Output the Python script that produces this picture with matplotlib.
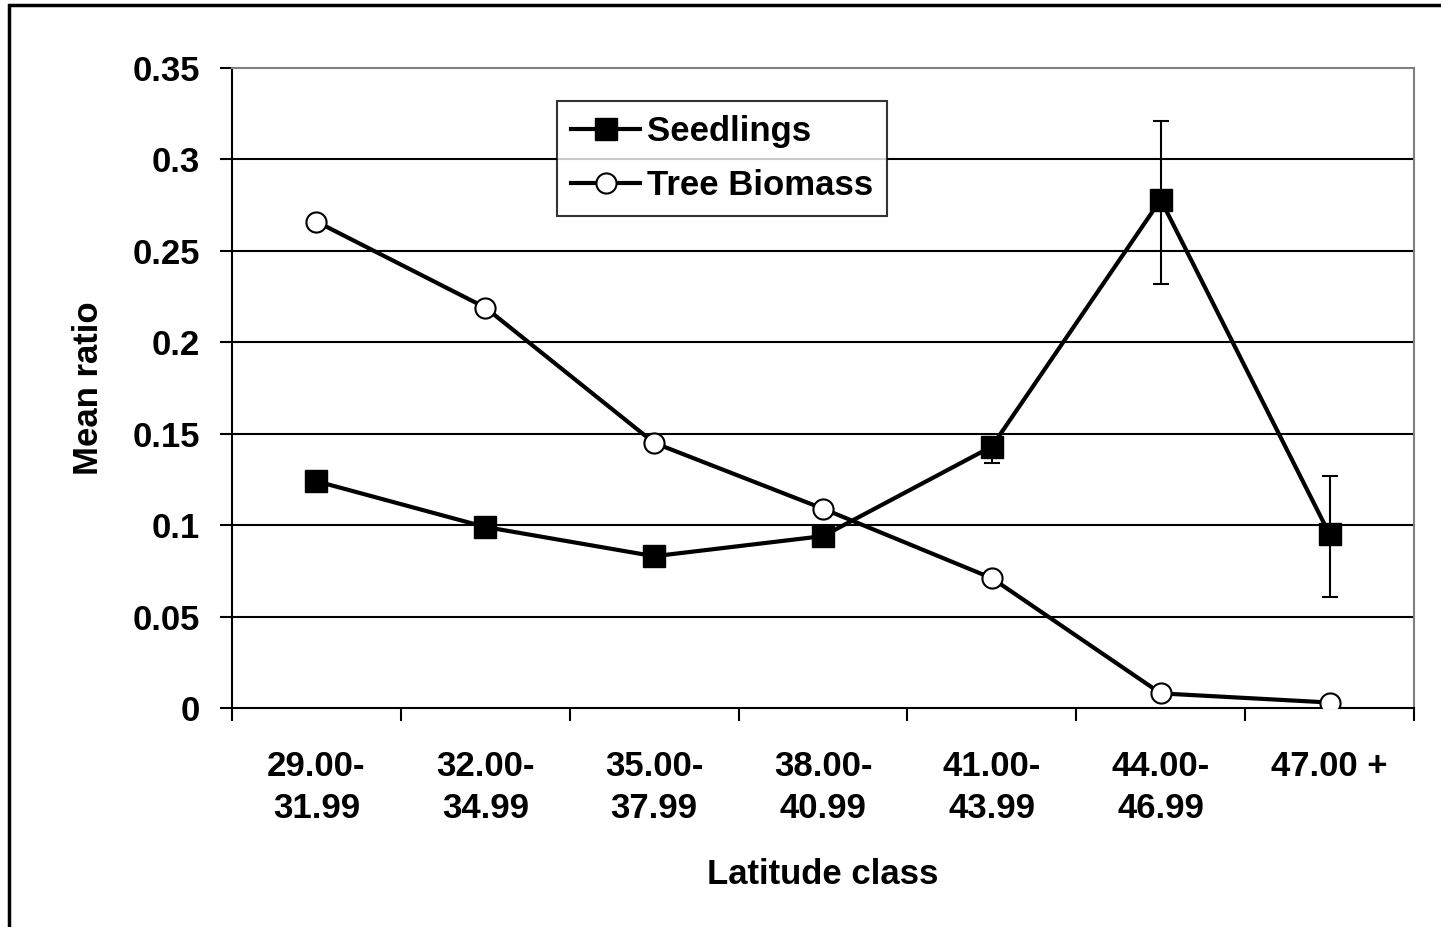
import matplotlib
matplotlib.use("Agg")
import matplotlib.pyplot as plt
from matplotlib.patches import Rectangle
from matplotlib.ticker import FixedLocator, NullFormatter

plt.rcParams['font.family'] = ['Liberation Sans', 'DejaVu Sans']
plt.rcParams['font.weight'] = 'bold'

# data
classes = ['29.00-\n31.99', '32.00-\n34.99', '35.00-\n37.99', '38.00-\n40.99',
           '41.00-\n43.99', '44.00-\n46.99', '47.00 +']
seedlings = [0.124, 0.099, 0.083, 0.094, 0.143, 0.278, 0.095]
err_low = [0.003, 0.003, 0.003, 0.003, 0.009, 0.046, 0.0345]
err_high = [0.003, 0.003, 0.003, 0.003, 0.004, 0.043, 0.032]
biomass = [0.266, 0.219, 0.145, 0.109, 0.071, 0.008, 0.003]
yticks = [0, 0.05, 0.1, 0.15, 0.2, 0.25, 0.3, 0.35]
ytick_labels = ['0', '0.05', '0.1', '0.15', '0.2', '0.25', '0.3', '0.35']

W, H = 1441, 927
fs = 25
fig = plt.figure(figsize=(W / 100, H / 100), dpi=100)
ax = fig.add_axes([232 / W, 1 - 708 / H, (1414 - 232) / W, (708 - 68) / H])

x = list(range(len(classes)))

for yv in yticks[1:-1]:
    ax.axhline(yv, color='black', lw=1.5, zorder=1)

ax.errorbar(x, seedlings, yerr=[err_low, err_high], fmt='none', ecolor='black',
            elinewidth=1.5, capsize=5.5, capthick=1.5, zorder=2)
ax.plot(x, seedlings, color='black', lw=3, marker='s', markersize=15.5,
        markerfacecolor='black', markeredgecolor='black', label='Seedlings', zorder=3)
ax.plot(x, biomass, color='black', lw=3, marker='o', markersize=14.5,
        markerfacecolor='white', markeredgecolor='black', markeredgewidth=1.5,
        label='Tree Biomass', zorder=4)

ax.set_xlim(-0.5, len(classes) - 0.5)
ax.set_ylim(0, 0.35)
ax.set_yticks(yticks)
ax.set_yticklabels(ytick_labels, fontsize=fs, fontweight='bold')

# ticks at class boundaries, labels centred on the classes
ax.xaxis.set_major_locator(FixedLocator([i - 0.5 for i in range(len(classes) + 1)]))
ax.xaxis.set_major_formatter(NullFormatter())
ax.xaxis.set_minor_locator(FixedLocator(x))
ax.set_xticklabels(classes, minor=True, fontsize=fs, fontweight='bold', linespacing=1.35)
ax.tick_params(axis='x', which='minor', length=0, pad=30)
ax.tick_params(axis='x', which='major', direction='out', length=9, width=1.5)
ax.tick_params(axis='y', direction='out', length=9, width=1.5, pad=14)

for s in ['left', 'bottom']:
    ax.spines[s].set_linewidth(1.5)
    ax.spines[s].set_color('black')
for s in ['top', 'right']:
    ax.spines[s].set_linewidth(1.5)
    ax.spines[s].set_color('#808080')

ax.set_xlabel('Latitude class', fontsize=fs, fontweight='bold', labelpad=24)
ax.set_ylabel('Mean ratio', fontsize=fs, fontweight='bold', labelpad=20)

leg = ax.legend(loc='upper left', bbox_to_anchor=((557 - 232) / (1414 - 232), 1 - (101 - 68) / 640),
                fontsize=fs, frameon=True, fancybox=False, edgecolor='black',
                handlelength=2.0, borderpad=0.4, labelspacing=0.6, handletextpad=0.2,
                borderaxespad=0, markerscale=1.0)
leg.get_frame().set_linewidth(1.5)
leg.set_zorder(10)

fig.patches.append(Rectangle((9 / W, -0.05), 1.1, 1 - 5 / H + 0.05, transform=fig.transFigure,
                             fill=False, edgecolor='black', lw=2.5))

fig.savefig('out.png', dpi=100)
